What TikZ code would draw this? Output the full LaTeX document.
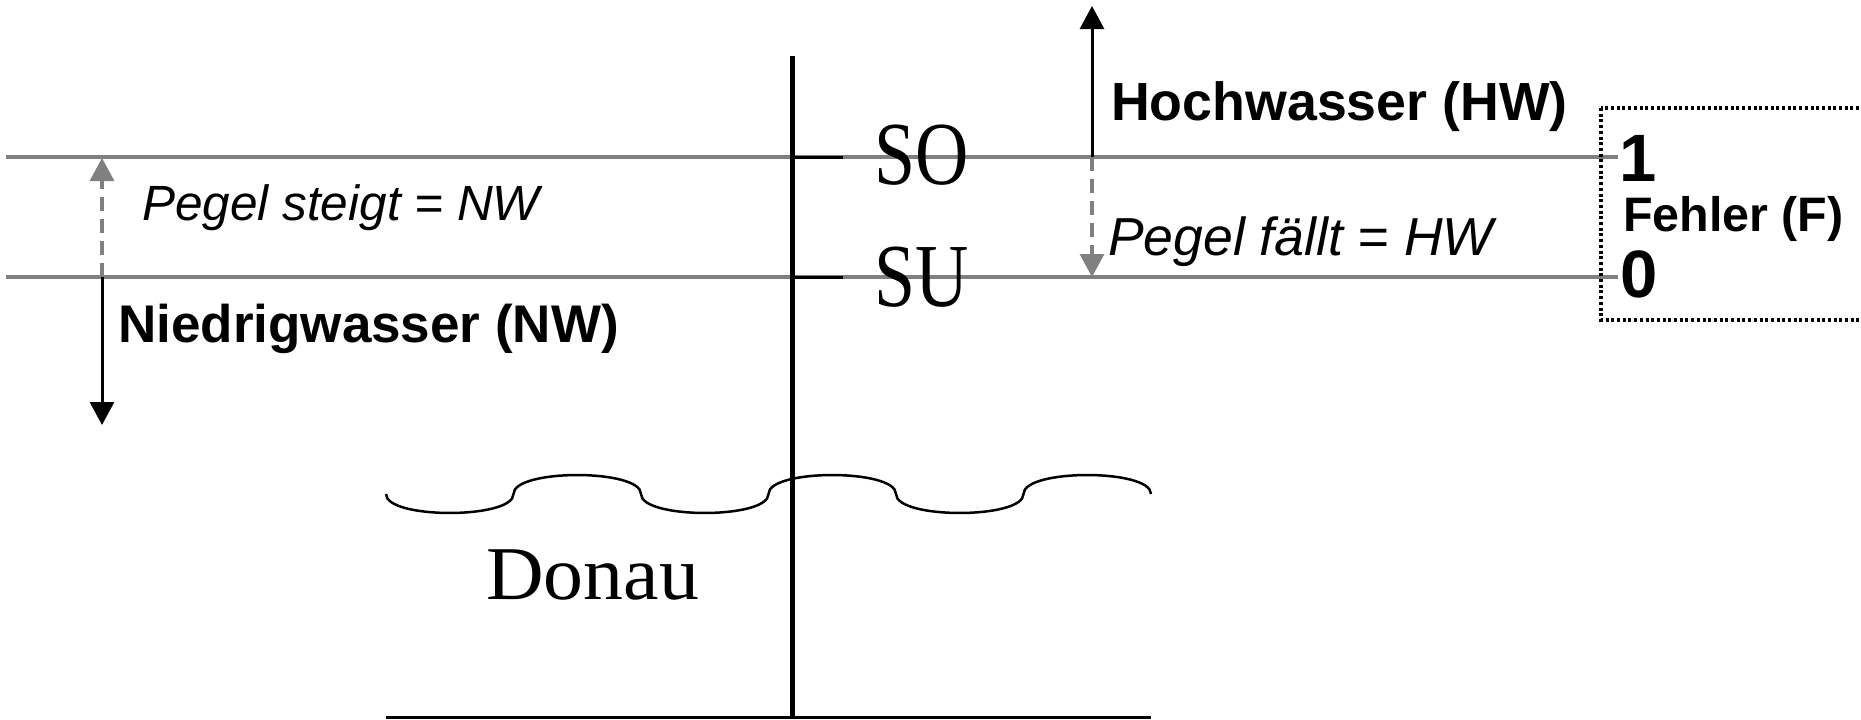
\documentclass[tikz,border=0pt]{standalone}
\usepackage{fontspec}
\setmainfont{Liberation Serif}
\newfontfamily\arialf{Liberation Sans}
\usetikzlibrary{arrows.meta}
\begin{document}
\begin{tikzpicture}[x=1pt,y=-1pt,
  level/.style={draw=gray, line width=3.5pt},
  postline/.style={draw=black, line width=5pt},
  tickline/.style={draw=black, line width=3pt},
  solidarrow/.style={draw=black, line width=3pt, -{Triangle[length=23pt,width=24pt]}},
  dasharrow/.style={draw=gray, line width=3.2pt, dash pattern=on 14pt off 8pt, -{Triangle[length=23pt,width=24pt]}},
  wave/.style={draw=black, line width=2.5pt},
  dotbox/.style={draw=black, line width=3.2pt, dash pattern=on 3pt off 2.7pt},
  lab/.style={inner sep=0pt, anchor=base west},
  boldlab/.style={lab, font=\arialf\bfseries\fontsize{53}{60}\selectfont},
  itlab/.style={lab, font=\arialf\itshape\fontsize{51}{60}\selectfont},
  serlab/.style={lab, font=\fontsize{90}{95}\selectfont},
  numlab/.style={lab, font=\arialf\bfseries\fontsize{67}{70}\selectfont}
]
\useasboundingbox (0,0) rectangle (1861,720);

% level coordinates
\coordinate (soL) at (6,157);
\coordinate (soR) at (1618,157);
\coordinate (suL) at (6,277);
\coordinate (suR) at (1618,277);

% gray level lines
\draw[level] (soL) -- (soR);
\draw[level] (suL) -- (suR);

% gauge post and ticks
\coordinate (postTop) at (792,56);
\coordinate (postBot) at (792,718);
\draw[postline] (postTop) -- (postBot);
\coordinate (tickSO) at (843,157);
\coordinate (tickSU) at (843,277);
\coordinate (postSO) at (792,157);
\coordinate (postSU) at (792,277);
\draw[tickline] (postSO) -- (tickSO);
\draw[tickline] (postSU) -- (tickSU);

% left arrows
\coordinate (lA) at (102,277);
\coordinate (lTop) at (102,158);
\coordinate (lBot) at (102,425);
\draw[dasharrow] (lA) -- (lTop);
\draw[solidarrow] (lA) -- (lBot);

% right arrows
\coordinate (rA) at (1092,157);
\coordinate (rTop) at (1092,6);
\coordinate (rBot) at (1092,277);
\draw[solidarrow] (rA) -- (rTop);
\draw[dasharrow] (rA) -- (rBot);

% waves
\draw[wave] (386,494)
  .. controls (386,519.3) and (513.5,519.3) .. (513.5,494)
  .. controls (513.5,468.7) and (641,468.7) .. (641,494)
  .. controls (641,519.3) and (768.5,519.3) .. (768.5,494)
  .. controls (768.5,468.7) and (896,468.7) .. (896,494)
  .. controls (896,519.3) and (1023.5,519.3) .. (1023.5,494)
  .. controls (1023.5,468.7) and (1151,468.7) .. (1151,494);

% ground line
\draw[tickline] (386,717) -- (1151,717);

% dotted box
\draw[dotbox] (1601,108) rectangle (1880,320);

% labels
\node[lab, font=\arialf\itshape\fontsize{49.5}{60}\selectfont] (lblPS) at (142,220) {Pegel steigt = NW};
\node[boldlab] (lblNW) at (118,342) {Niedrigwasser (NW)};
\node[lab, font=\arialf\bfseries\fontsize{53.7}{60}\selectfont] (lblHW) at (1111,120) {Hochwasser (HW)};
\node[lab, font=\arialf\itshape\fontsize{53.5}{60}\selectfont] (lblPF) at (1108,255) {Pegel fällt = HW};
\node[serlab] (lblSO) at (874,184) {\scalebox{0.82}[1]{SO}};
\node[serlab] (lblSU) at (874,306) {\scalebox{0.82}[1]{SU}};
\node[lab, font=\fontsize{76}{80}\selectfont] (lblDonau) at (486,599) {\scalebox{1.05}[1]{Donau}};
\node[numlab] (lblOne) at (1619,181) {1};
\node[numlab] (lblZero) at (1620,297) {0};
\node[lab, font=\arialf\bfseries\fontsize{48.4}{50}\selectfont] (lblF) at (1623,231) {Fehler (F)};
\end{tikzpicture}
\end{document}
